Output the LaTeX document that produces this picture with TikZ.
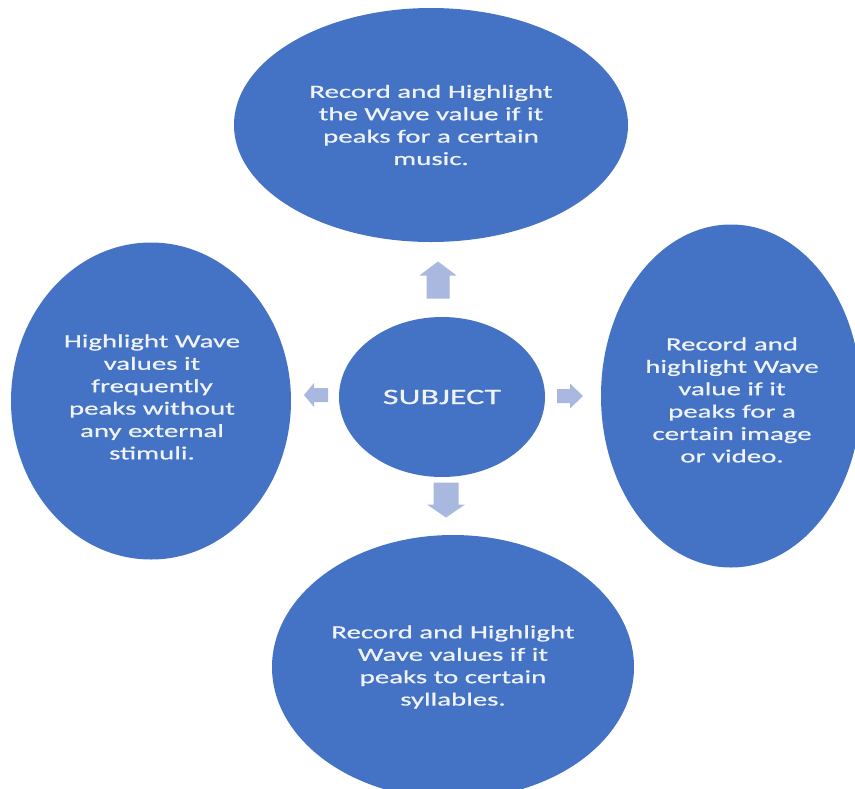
\documentclass[tikz,border=0pt]{standalone}
\usepackage{fontspec}
\setmainfont{Carlito}[FakeStretch=1.55,FakeBold=0.7]
\usetikzlibrary{shapes.geometric}
\definecolor{ovalblue}{RGB}{68,114,196}
\definecolor{arrowtint}{RGB}{168,184,222}
\definecolor{textwhite}{RGB}{240,244,250}
\tikzset{
  oval/.style={ellipse, fill=ovalblue, draw=none, inner sep=0pt, text=textwhite, align=center,
    font=\fontsize{18.6}{22.4}\selectfont},
  pics/blockarrow/.style n args={4}{code={
    \fill[arrowtint] (-#1/2,-#3/2) -- (#1/2-#4,-#3/2) -- (#1/2-#4,-#2/2) -- (#1/2,0)
      -- (#1/2-#4,#2/2) -- (#1/2-#4,#3/2) -- (-#1/2,#3/2) -- cycle;}}
}
\begin{document}
\begin{tikzpicture}[x=1pt,y=-1pt]
\useasboundingbox (0,0) rectangle (855,788);
\fill[white] (0,0) rectangle (855,788);
\clip (0,0) rectangle (855,788);
\node[oval, minimum width=394pt, minimum height=234pt] (music) at (431,125)
  {Record and Highlight\\the Wave value if it\\peaks for a certain\\music.};
\node[oval, minimum width=280pt, minimum height=317pt] (stimuli) at (151,401) {};
\node[align=center, text=textwhite, font=\fontsize{18.6}{22.4}\selectfont, inner sep=0pt] (stimulitext) at (152,397)
  {Highlight Wave\\values it\\frequently\\peaks without\\any external\\stimuli.};
\node[oval, minimum width=260pt, minimum height=343pt] (image) at (731,396) {};
\node[align=center, text=textwhite, font=\fontsize{18.6}{22.4}\selectfont, inner sep=0pt] (imagetext) at (732,400)
  {Record and\\highlight Wave\\value if it\\peaks for a\\certain image\\or video.};
\node[oval, minimum width=362pt, minimum height=264pt] (syll) at (453,667)
  {Record and Highlight\\Wave values if it\\peaks to certain\\syllables.};
\node[oval, minimum width=206pt, minimum height=160pt, font=\fontsize{22}{26}\selectfont] (subject) at (442,397) {SUBJECT};
\pic[rotate=90] (aup) at (438,280) {blockarrow={37}{37}{23}{14}};
\pic[rotate=180] (aleft) at (316,395) {blockarrow={24}{24}{14}{10}};
\pic[rotate=0] (aright) at (570,396) {blockarrow={26}{25}{14}{13}};
\pic[rotate=-90] (adown) at (446,500) {blockarrow={35}{38}{25}{13}};
\end{tikzpicture}
\end{document}
